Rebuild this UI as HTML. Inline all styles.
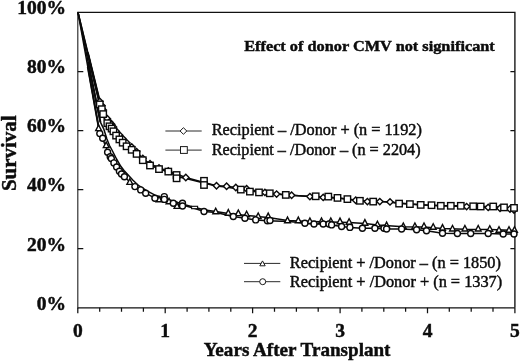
<!DOCTYPE html>
<html><head><meta charset="utf-8"><title>Survival chart</title>
<style>html,body{margin:0;padding:0;background:#fff;width:520px;height:361px;overflow:hidden}
body{font-family:"Liberation Serif",serif;position:relative}</style></head>
<body>
<svg width="520" height="361" viewBox="0 0 520 361" style="display:block;position:absolute;left:0;top:0;will-change:transform">
<rect width="520" height="361" fill="#fff"/>
<g stroke="#111" stroke-width="1.35" fill="none">
<path d="M77.8 12.4H514.9V307.8"/>
<path d="M77.8 307.8H514.9"/>
</g>
<path d="M77.8 11.8V308.4" stroke="#2a2a2a" stroke-width="1.15" fill="none"/>
<path d="M77.8 71.5h5.5M514.9 71.5h-4.5M77.8 130.6h5.5M514.9 130.6h-4.5M77.8 189.6h5.5M514.9 189.6h-4.5M77.8 248.7h5.5M514.9 248.7h-4.5M77.8 307.8v5.5M99.7 307.8v4.0M121.5 307.8v4.0M143.4 307.8v4.0M165.2 307.8v5.5M187.1 307.8v4.0M208.9 307.8v4.0M230.8 307.8v4.0M252.6 307.8v5.5M274.5 307.8v4.0M296.4 307.8v4.0M318.2 307.8v4.0M340.1 307.8v5.5M361.9 307.8v4.0M383.8 307.8v4.0M405.6 307.8v4.0M427.5 307.8v5.5M449.3 307.8v4.0M471.2 307.8v4.0M493.0 307.8v4.0M514.9 307.8v5.5" stroke="#111" stroke-width="1.25" fill="none"/>
<g>
<polyline fill="none" stroke="#0a0a0a" stroke-width="1.50" stroke-linejoin="round" points="78.0,12.4 99.8,101.4 101.8,105.6 103.2,110.0 107.3,118.8 109.5,121.9 111.6,124.2 113.4,126.9 116.1,131.2 119.4,135.0 122.7,138.6 126.6,142.8 131.7,147.0 136.6,151.7 142.8,158.5 150.0,163.8 159.0,168.0 168.3,171.0 185.8,177.5 204.0,182.5 216.5,185.8 226.6,186.3 235.8,187.5 246.6,188.8 264.9,192.4 276.6,194.1 291.6,195.3 309.9,196.6 323.2,197.4 340.0,198.3 355.7,200.3 367.4,201.6 379.8,201.6 390.0,201.9 410.0,204.0 430.0,205.3 450.0,206.0 466.6,206.6 488.2,207.4 500.0,208.2 510.0,209.0 514.0,210.0"/>
<polyline fill="none" stroke="#0a0a0a" stroke-width="1.50" stroke-linejoin="round" points="78.0,12.4 99.8,104.4 101.8,109.2 103.2,114.1 105.5,119.5 107.3,123.2 109.5,126.3 111.6,128.6 113.4,131.3 116.1,135.6 119.4,139.4 122.7,142.7 126.6,146.3 131.7,149.8 136.6,153.9 142.8,160.2 150.0,165.0 159.0,169.0 169.0,172.0 177.0,176.5 186.0,178.5 204.0,183.0 216.0,186.0 226.0,187.0 241.0,189.5 250.0,191.0 260.0,192.3 270.0,193.3 286.0,195.0 312.0,196.6 329.0,197.0 337.5,198.0 347.5,199.0 359.0,200.5 372.5,201.5 380.0,201.6 390.0,202.0 399.0,203.6 410.0,204.1 421.0,204.9 431.0,205.2 441.0,205.8 451.0,205.8 461.0,205.8 472.5,206.4 481.0,206.5 492.5,206.5 504.0,207.4 514.0,207.9"/>
<polyline fill="none" stroke="#0a0a0a" stroke-width="1.50" stroke-linejoin="round" points="78.0,12.4 100.4,122.1 103.7,128.8 106.9,139.0 109.5,145.5 112.5,151.0 116.5,159.0 120.8,166.3 124.0,170.5 127.7,174.6 133.0,180.3 138.8,185.7 147.0,190.8 155.0,195.2 164.0,198.3 173.0,201.0 184.0,204.5 195.0,207.5 205.0,210.0 215.7,211.5 228.3,213.5 246.6,215.5 268.2,217.5 287.5,220.5 309.9,221.5 330.8,222.0 349.1,222.5 364.9,223.5 377.4,225.0 403.3,226.8 424.0,227.0 442.5,228.5 464.9,229.3 489.8,229.6 514.5,230.5"/>
<polyline fill="none" stroke="#0a0a0a" stroke-width="1.50" stroke-linejoin="round" points="78.0,12.4 99.8,133.6 102.7,138.2 104.5,143.5 106.5,148.5 107.6,152.2 110.2,156.7 111.3,158.5 113.9,162.9 116.6,167.0 119.4,171.2 121.5,174.0 124.4,176.7 129.9,182.0 134.9,186.6 140.7,189.9 145.7,193.2 154.9,198.2 164.0,199.9 173.3,203.2 182.5,205.0 195.0,208.5 204.0,211.5 216.0,212.5 233.3,216.5 244.9,218.2 255.7,219.9 267.4,220.7 289.0,221.5 299.0,222.5 304.9,223.2 314.0,224.0 323.2,224.0 331.6,224.9 341.6,226.5 349.9,227.4 362.4,228.2 374.9,228.2 386.6,229.0 401.6,229.0 416.6,229.8 426.5,230.7 442.5,233.2 457.4,233.5 470.7,233.5 488.2,233.5 503.2,234.0 514.0,234.0"/>
<polyline fill="none" stroke="#0a0a0a" stroke-width="2.00" stroke-linejoin="round" points="87.8,52.5 99.8,101.4"/>
<polyline fill="none" stroke="#0a0a0a" stroke-width="2.00" stroke-linejoin="round" points="87.8,53.8 99.8,104.4"/>
<polyline fill="none" stroke="#0a0a0a" stroke-width="2.00" stroke-linejoin="round" points="88.1,61.8 100.4,122.1"/>
<polyline fill="none" stroke="#0a0a0a" stroke-width="2.00" stroke-linejoin="round" points="87.8,66.9 99.8,133.6"/>
<rect x="191.6" y="206.3" width="6" height="2.4" fill="#fff" stroke="#0a0a0a" stroke-width="1.1"/>
<path d="M96.6 101.4L99.8 98.2L103.0 101.4L99.8 104.6Z" fill="#fff" stroke="#0a0a0a" stroke-width="1.4"/><path d="M98.6 105.6L101.8 102.4L105.0 105.6L101.8 108.8Z" fill="#fff" stroke="#0a0a0a" stroke-width="1.4"/><path d="M100.0 110.0L103.2 106.8L106.4 110.0L103.2 113.2Z" fill="#fff" stroke="#0a0a0a" stroke-width="1.4"/><path d="M104.1 118.8L107.3 115.6L110.5 118.8L107.3 122.0Z" fill="#fff" stroke="#0a0a0a" stroke-width="1.4"/><path d="M106.3 121.9L109.5 118.7L112.7 121.9L109.5 125.1Z" fill="#fff" stroke="#0a0a0a" stroke-width="1.4"/><path d="M108.4 124.2L111.6 121.0L114.8 124.2L111.6 127.4Z" fill="#fff" stroke="#0a0a0a" stroke-width="1.4"/><path d="M110.2 126.9L113.4 123.7L116.6 126.9L113.4 130.1Z" fill="#fff" stroke="#0a0a0a" stroke-width="1.4"/><path d="M112.9 131.2L116.1 128.0L119.3 131.2L116.1 134.4Z" fill="#fff" stroke="#0a0a0a" stroke-width="1.4"/><path d="M116.2 135.0L119.4 131.8L122.6 135.0L119.4 138.2Z" fill="#fff" stroke="#0a0a0a" stroke-width="1.4"/><path d="M119.5 138.6L122.7 135.4L125.9 138.6L122.7 141.8Z" fill="#fff" stroke="#0a0a0a" stroke-width="1.4"/><path d="M123.4 142.8L126.6 139.6L129.8 142.8L126.6 146.0Z" fill="#fff" stroke="#0a0a0a" stroke-width="1.4"/><path d="M128.5 147.0L131.7 143.8L134.9 147.0L131.7 150.2Z" fill="#fff" stroke="#0a0a0a" stroke-width="1.4"/><path d="M133.4 151.7L136.6 148.5L139.8 151.7L136.6 154.9Z" fill="#fff" stroke="#0a0a0a" stroke-width="1.4"/><path d="M139.6 158.5L142.8 155.3L146.0 158.5L142.8 161.7Z" fill="#fff" stroke="#0a0a0a" stroke-width="1.4"/><path d="M146.8 163.8L150.0 160.6L153.2 163.8L150.0 167.0Z" fill="#fff" stroke="#0a0a0a" stroke-width="1.4"/><path d="M155.8 168.0L159.0 164.8L162.2 168.0L159.0 171.2Z" fill="#fff" stroke="#0a0a0a" stroke-width="1.4"/><path d="M165.1 171.0L168.3 167.8L171.5 171.0L168.3 174.2Z" fill="#fff" stroke="#0a0a0a" stroke-width="1.4"/>
<path d="M182.6 177.5L185.8 174.3L189.0 177.5L185.8 180.7Z" fill="#fff" stroke="#0a0a0a" stroke-width="1.4"/><path d="M213.3 185.8L216.5 182.6L219.7 185.8L216.5 189.0Z" fill="#fff" stroke="#0a0a0a" stroke-width="1.4"/><path d="M223.4 186.3L226.6 183.1L229.8 186.3L226.6 189.5Z" fill="#fff" stroke="#0a0a0a" stroke-width="1.4"/><path d="M232.6 187.5L235.8 184.3L239.0 187.5L235.8 190.7Z" fill="#fff" stroke="#0a0a0a" stroke-width="1.4"/><path d="M243.4 188.8L246.6 185.6L249.8 188.8L246.6 192.0Z" fill="#fff" stroke="#0a0a0a" stroke-width="1.4"/><path d="M261.7 192.4L264.9 189.2L268.1 192.4L264.9 195.6Z" fill="#fff" stroke="#0a0a0a" stroke-width="1.4"/><path d="M273.4 194.1L276.6 190.9L279.8 194.1L276.6 197.3Z" fill="#fff" stroke="#0a0a0a" stroke-width="1.4"/><path d="M288.4 195.3L291.6 192.1L294.8 195.3L291.6 198.5Z" fill="#fff" stroke="#0a0a0a" stroke-width="1.4"/><path d="M306.7 196.6L309.9 193.4L313.1 196.6L309.9 199.8Z" fill="#fff" stroke="#0a0a0a" stroke-width="1.4"/><path d="M320.0 197.4L323.2 194.2L326.4 197.4L323.2 200.6Z" fill="#fff" stroke="#0a0a0a" stroke-width="1.4"/><path d="M352.5 200.3L355.7 197.1L358.9 200.3L355.7 203.5Z" fill="#fff" stroke="#0a0a0a" stroke-width="1.4"/><path d="M364.2 201.6L367.4 198.4L370.6 201.6L367.4 204.8Z" fill="#fff" stroke="#0a0a0a" stroke-width="1.4"/><path d="M376.6 201.6L379.8 198.4L383.0 201.6L379.8 204.8Z" fill="#fff" stroke="#0a0a0a" stroke-width="1.4"/><path d="M386.8 201.9L390.0 198.7L393.2 201.9L390.0 205.1Z" fill="#fff" stroke="#0a0a0a" stroke-width="1.4"/><path d="M463.4 206.6L466.6 203.4L469.8 206.6L466.6 209.8Z" fill="#fff" stroke="#0a0a0a" stroke-width="1.4"/><path d="M485.0 207.4L488.2 204.2L491.4 207.4L488.2 210.6Z" fill="#fff" stroke="#0a0a0a" stroke-width="1.4"/><path d="M496.8 208.2L500.0 205.0L503.2 208.2L500.0 211.4Z" fill="#fff" stroke="#0a0a0a" stroke-width="1.4"/><path d="M506.8 209.0L510.0 205.8L513.2 209.0L510.0 212.2Z" fill="#fff" stroke="#0a0a0a" stroke-width="1.4"/><path d="M510.8 210.0L514.0 206.8L517.2 210.0L514.0 213.2Z" fill="#fff" stroke="#0a0a0a" stroke-width="1.4"/>
<rect x="96.6" y="101.2" width="6.4" height="6.4" fill="#fff" stroke="#0a0a0a" stroke-width="1.4"/><rect x="98.6" y="106.0" width="6.4" height="6.4" fill="#fff" stroke="#0a0a0a" stroke-width="1.4"/><rect x="100.0" y="110.9" width="6.4" height="6.4" fill="#fff" stroke="#0a0a0a" stroke-width="1.4"/><rect x="104.1" y="120.0" width="6.4" height="6.4" fill="#fff" stroke="#0a0a0a" stroke-width="1.4"/><rect x="106.3" y="123.1" width="6.4" height="6.4" fill="#fff" stroke="#0a0a0a" stroke-width="1.4"/><rect x="108.4" y="125.4" width="6.4" height="6.4" fill="#fff" stroke="#0a0a0a" stroke-width="1.4"/><rect x="110.2" y="128.1" width="6.4" height="6.4" fill="#fff" stroke="#0a0a0a" stroke-width="1.4"/><rect x="112.9" y="132.4" width="6.4" height="6.4" fill="#fff" stroke="#0a0a0a" stroke-width="1.4"/><rect x="116.2" y="136.2" width="6.4" height="6.4" fill="#fff" stroke="#0a0a0a" stroke-width="1.4"/><rect x="119.5" y="139.5" width="6.4" height="6.4" fill="#fff" stroke="#0a0a0a" stroke-width="1.4"/><rect x="123.4" y="143.1" width="6.4" height="6.4" fill="#fff" stroke="#0a0a0a" stroke-width="1.4"/><rect x="128.5" y="146.6" width="6.4" height="6.4" fill="#fff" stroke="#0a0a0a" stroke-width="1.4"/><rect x="133.4" y="150.7" width="6.4" height="6.4" fill="#fff" stroke="#0a0a0a" stroke-width="1.4"/><rect x="139.6" y="157.0" width="6.4" height="6.4" fill="#fff" stroke="#0a0a0a" stroke-width="1.4"/><rect x="146.8" y="162.3" width="6.4" height="6.4" fill="#fff" stroke="#0a0a0a" stroke-width="1.4"/><rect x="155.8" y="165.9" width="6.4" height="6.4" fill="#fff" stroke="#0a0a0a" stroke-width="1.4"/><rect x="165.1" y="168.4" width="6.4" height="6.4" fill="#fff" stroke="#0a0a0a" stroke-width="1.4"/><rect x="173.4" y="171.8" width="6.4" height="6.4" fill="#fff" stroke="#0a0a0a" stroke-width="1.4"/><rect x="173.4" y="175.1" width="6.4" height="6.4" fill="#fff" stroke="#0a0a0a" stroke-width="1.4"/><rect x="200.8" y="177.6" width="6.4" height="6.4" fill="#fff" stroke="#0a0a0a" stroke-width="1.4"/><rect x="200.8" y="181.8" width="6.4" height="6.4" fill="#fff" stroke="#0a0a0a" stroke-width="1.4"/><rect x="237.6" y="186.4" width="6.4" height="6.4" fill="#fff" stroke="#0a0a0a" stroke-width="1.4"/><rect x="246.7" y="188.4" width="6.4" height="6.4" fill="#fff" stroke="#0a0a0a" stroke-width="1.4"/><rect x="255.8" y="189.2" width="6.4" height="6.4" fill="#fff" stroke="#0a0a0a" stroke-width="1.4"/><rect x="266.6" y="190.1" width="6.4" height="6.4" fill="#fff" stroke="#0a0a0a" stroke-width="1.4"/><rect x="282.6" y="191.7" width="6.4" height="6.4" fill="#fff" stroke="#0a0a0a" stroke-width="1.4"/><rect x="312.5" y="193.1" width="6.4" height="6.4" fill="#fff" stroke="#0a0a0a" stroke-width="1.4"/><rect x="325.1" y="193.4" width="6.4" height="6.4" fill="#fff" stroke="#0a0a0a" stroke-width="1.4"/><rect x="334.3" y="194.7" width="6.4" height="6.4" fill="#fff" stroke="#0a0a0a" stroke-width="1.4"/><rect x="344.2" y="195.9" width="6.4" height="6.4" fill="#fff" stroke="#0a0a0a" stroke-width="1.4"/><rect x="356.7" y="197.6" width="6.4" height="6.4" fill="#fff" stroke="#0a0a0a" stroke-width="1.4"/><rect x="370.0" y="198.4" width="6.4" height="6.4" fill="#fff" stroke="#0a0a0a" stroke-width="1.4"/><rect x="395.9" y="200.4" width="6.4" height="6.4" fill="#fff" stroke="#0a0a0a" stroke-width="1.4"/><rect x="406.7" y="200.9" width="6.4" height="6.4" fill="#fff" stroke="#0a0a0a" stroke-width="1.4"/><rect x="417.5" y="201.7" width="6.4" height="6.4" fill="#fff" stroke="#0a0a0a" stroke-width="1.4"/><rect x="428.3" y="202.0" width="6.4" height="6.4" fill="#fff" stroke="#0a0a0a" stroke-width="1.4"/><rect x="437.6" y="202.6" width="6.4" height="6.4" fill="#fff" stroke="#0a0a0a" stroke-width="1.4"/><rect x="447.6" y="202.6" width="6.4" height="6.4" fill="#fff" stroke="#0a0a0a" stroke-width="1.4"/><rect x="457.6" y="202.6" width="6.4" height="6.4" fill="#fff" stroke="#0a0a0a" stroke-width="1.4"/><rect x="470.0" y="203.1" width="6.4" height="6.4" fill="#fff" stroke="#0a0a0a" stroke-width="1.4"/><rect x="477.5" y="203.3" width="6.4" height="6.4" fill="#fff" stroke="#0a0a0a" stroke-width="1.4"/><rect x="490.0" y="203.3" width="6.4" height="6.4" fill="#fff" stroke="#0a0a0a" stroke-width="1.4"/><rect x="500.8" y="204.2" width="6.4" height="6.4" fill="#fff" stroke="#0a0a0a" stroke-width="1.4"/><rect x="510.8" y="204.7" width="6.4" height="6.4" fill="#fff" stroke="#0a0a0a" stroke-width="1.4"/>
<path d="M156.1 201.8L159.0 196.2L161.9 201.8Z" fill="#fff" stroke="#0a0a0a" stroke-width="1.4"/><path d="M166.1 203.8L169.0 198.2L171.9 203.8Z" fill="#fff" stroke="#0a0a0a" stroke-width="1.4"/><path d="M174.1 208.4L177.0 202.8L179.9 208.4Z" fill="#fff" stroke="#0a0a0a" stroke-width="1.4"/><path d="M212.8 213.8L215.7 208.2L218.6 213.8Z" fill="#fff" stroke="#0a0a0a" stroke-width="1.4"/><path d="M225.4 215.2L228.3 209.6L231.2 215.2Z" fill="#fff" stroke="#0a0a0a" stroke-width="1.4"/><path d="M235.4 215.6L238.3 210.0L241.2 215.6Z" fill="#fff" stroke="#0a0a0a" stroke-width="1.4"/><path d="M243.7 216.8L246.6 211.2L249.5 216.8Z" fill="#fff" stroke="#0a0a0a" stroke-width="1.4"/><path d="M255.3 218.5L258.2 212.9L261.1 218.5Z" fill="#fff" stroke="#0a0a0a" stroke-width="1.4"/><path d="M265.3 218.7L268.2 213.1L271.1 218.7Z" fill="#fff" stroke="#0a0a0a" stroke-width="1.4"/><path d="M284.6 222.7L287.5 217.1L290.4 222.7Z" fill="#fff" stroke="#0a0a0a" stroke-width="1.4"/><path d="M295.4 222.7L298.3 217.1L301.2 222.7Z" fill="#fff" stroke="#0a0a0a" stroke-width="1.4"/><path d="M307.0 223.5L309.9 217.9L312.8 223.5Z" fill="#fff" stroke="#0a0a0a" stroke-width="1.4"/><path d="M318.6 223.5L321.5 217.9L324.4 223.5Z" fill="#fff" stroke="#0a0a0a" stroke-width="1.4"/><path d="M327.9 223.5L330.8 217.9L333.7 223.5Z" fill="#fff" stroke="#0a0a0a" stroke-width="1.4"/><path d="M337.1 223.7L340.0 218.1L342.9 223.7Z" fill="#fff" stroke="#0a0a0a" stroke-width="1.4"/><path d="M346.2 224.3L349.1 218.7L352.0 224.3Z" fill="#fff" stroke="#0a0a0a" stroke-width="1.4"/><path d="M362.0 225.2L364.9 219.6L367.8 225.2Z" fill="#fff" stroke="#0a0a0a" stroke-width="1.4"/><path d="M374.5 226.8L377.4 221.2L380.3 226.8Z" fill="#fff" stroke="#0a0a0a" stroke-width="1.4"/><path d="M383.7 227.7L386.6 222.1L389.5 227.7Z" fill="#fff" stroke="#0a0a0a" stroke-width="1.4"/><path d="M400.4 228.5L403.3 222.9L406.2 228.5Z" fill="#fff" stroke="#0a0a0a" stroke-width="1.4"/><path d="M412.0 228.5L414.9 222.9L417.8 228.5Z" fill="#fff" stroke="#0a0a0a" stroke-width="1.4"/><path d="M421.1 228.5L424.0 222.9L426.9 228.5Z" fill="#fff" stroke="#0a0a0a" stroke-width="1.4"/><path d="M430.3 229.3L433.2 223.7L436.1 229.3Z" fill="#fff" stroke="#0a0a0a" stroke-width="1.4"/><path d="M439.6 230.2L442.5 224.6L445.4 230.2Z" fill="#fff" stroke="#0a0a0a" stroke-width="1.4"/><path d="M449.6 231.0L452.5 225.4L455.4 231.0Z" fill="#fff" stroke="#0a0a0a" stroke-width="1.4"/><path d="M462.0 231.0L464.9 225.4L467.8 231.0Z" fill="#fff" stroke="#0a0a0a" stroke-width="1.4"/><path d="M475.3 231.0L478.2 225.4L481.1 231.0Z" fill="#fff" stroke="#0a0a0a" stroke-width="1.4"/><path d="M486.9 231.3L489.8 225.7L492.7 231.3Z" fill="#fff" stroke="#0a0a0a" stroke-width="1.4"/><path d="M496.1 232.3L499.0 226.7L501.9 232.3Z" fill="#fff" stroke="#0a0a0a" stroke-width="1.4"/><path d="M506.1 232.3L509.0 226.7L511.9 232.3Z" fill="#fff" stroke="#0a0a0a" stroke-width="1.4"/><path d="M511.6 232.3L514.5 226.7L517.4 232.3Z" fill="#fff" stroke="#0a0a0a" stroke-width="1.4"/>
<circle cx="99.8" cy="133.6" r="3.0" fill="#fff" stroke="#0a0a0a" stroke-width="1.4"/><circle cx="102.7" cy="138.2" r="3.0" fill="#fff" stroke="#0a0a0a" stroke-width="1.4"/><circle cx="107.6" cy="152.2" r="3.0" fill="#fff" stroke="#0a0a0a" stroke-width="1.4"/><circle cx="110.2" cy="156.7" r="3.0" fill="#fff" stroke="#0a0a0a" stroke-width="1.4"/><circle cx="111.3" cy="158.5" r="3.0" fill="#fff" stroke="#0a0a0a" stroke-width="1.4"/><circle cx="113.9" cy="162.9" r="3.0" fill="#fff" stroke="#0a0a0a" stroke-width="1.4"/><circle cx="116.6" cy="167.0" r="3.0" fill="#fff" stroke="#0a0a0a" stroke-width="1.4"/><circle cx="119.4" cy="171.2" r="3.0" fill="#fff" stroke="#0a0a0a" stroke-width="1.4"/><circle cx="121.5" cy="174.0" r="3.0" fill="#fff" stroke="#0a0a0a" stroke-width="1.4"/><circle cx="124.4" cy="176.7" r="3.0" fill="#fff" stroke="#0a0a0a" stroke-width="1.4"/><circle cx="134.9" cy="186.6" r="3.0" fill="#fff" stroke="#0a0a0a" stroke-width="1.4"/><circle cx="140.7" cy="189.9" r="3.0" fill="#fff" stroke="#0a0a0a" stroke-width="1.4"/><circle cx="145.7" cy="193.2" r="3.0" fill="#fff" stroke="#0a0a0a" stroke-width="1.4"/><circle cx="154.9" cy="198.2" r="3.0" fill="#fff" stroke="#0a0a0a" stroke-width="1.4"/><circle cx="164.3" cy="196.6" r="3.0" fill="#fff" stroke="#0a0a0a" stroke-width="1.4"/><circle cx="164.3" cy="199.4" r="3.0" fill="#fff" stroke="#0a0a0a" stroke-width="1.4"/><circle cx="173.3" cy="203.2" r="3.0" fill="#fff" stroke="#0a0a0a" stroke-width="1.4"/><circle cx="182.5" cy="203.3" r="3.0" fill="#fff" stroke="#0a0a0a" stroke-width="1.4"/><circle cx="182.5" cy="206.0" r="3.0" fill="#fff" stroke="#0a0a0a" stroke-width="1.4"/><circle cx="204.0" cy="211.5" r="3.0" fill="#fff" stroke="#0a0a0a" stroke-width="1.4"/><circle cx="233.3" cy="216.5" r="3.0" fill="#fff" stroke="#0a0a0a" stroke-width="1.4"/><circle cx="244.9" cy="218.2" r="3.0" fill="#fff" stroke="#0a0a0a" stroke-width="1.4"/><circle cx="255.7" cy="219.9" r="3.0" fill="#fff" stroke="#0a0a0a" stroke-width="1.4"/><circle cx="267.4" cy="220.7" r="3.0" fill="#fff" stroke="#0a0a0a" stroke-width="1.4"/><circle cx="270.0" cy="220.5" r="3.0" fill="#fff" stroke="#0a0a0a" stroke-width="1.4"/><circle cx="304.9" cy="223.2" r="3.0" fill="#fff" stroke="#0a0a0a" stroke-width="1.4"/><circle cx="314.0" cy="224.0" r="3.0" fill="#fff" stroke="#0a0a0a" stroke-width="1.4"/><circle cx="323.2" cy="224.0" r="3.0" fill="#fff" stroke="#0a0a0a" stroke-width="1.4"/><circle cx="329.0" cy="224.0" r="3.0" fill="#fff" stroke="#0a0a0a" stroke-width="1.4"/><circle cx="331.6" cy="224.9" r="3.0" fill="#fff" stroke="#0a0a0a" stroke-width="1.4"/><circle cx="341.6" cy="226.5" r="3.0" fill="#fff" stroke="#0a0a0a" stroke-width="1.4"/><circle cx="349.9" cy="227.4" r="3.0" fill="#fff" stroke="#0a0a0a" stroke-width="1.4"/><circle cx="362.4" cy="228.2" r="3.0" fill="#fff" stroke="#0a0a0a" stroke-width="1.4"/><circle cx="374.9" cy="228.2" r="3.0" fill="#fff" stroke="#0a0a0a" stroke-width="1.4"/><circle cx="384.0" cy="228.2" r="3.0" fill="#fff" stroke="#0a0a0a" stroke-width="1.4"/><circle cx="386.6" cy="229.0" r="3.0" fill="#fff" stroke="#0a0a0a" stroke-width="1.4"/><circle cx="401.6" cy="229.0" r="3.0" fill="#fff" stroke="#0a0a0a" stroke-width="1.4"/><circle cx="416.6" cy="229.8" r="3.0" fill="#fff" stroke="#0a0a0a" stroke-width="1.4"/><circle cx="426.5" cy="230.7" r="3.0" fill="#fff" stroke="#0a0a0a" stroke-width="1.4"/><circle cx="442.5" cy="233.2" r="3.0" fill="#fff" stroke="#0a0a0a" stroke-width="1.4"/><circle cx="457.4" cy="233.5" r="3.0" fill="#fff" stroke="#0a0a0a" stroke-width="1.4"/><circle cx="470.7" cy="233.5" r="3.0" fill="#fff" stroke="#0a0a0a" stroke-width="1.4"/><circle cx="488.2" cy="233.5" r="3.0" fill="#fff" stroke="#0a0a0a" stroke-width="1.4"/><circle cx="503.2" cy="234.0" r="3.0" fill="#fff" stroke="#0a0a0a" stroke-width="1.4"/><circle cx="514.0" cy="234.0" r="3.0" fill="#fff" stroke="#0a0a0a" stroke-width="1.4"/>
<path d="M95.7 130.6L98.6 125.0L101.5 130.6Z" fill="#fff" stroke="#0a0a0a" stroke-width="1.4"/><path d="M103.3 147.6L106.2 142.0L109.1 147.6Z" fill="#fff" stroke="#0a0a0a" stroke-width="1.4"/><path d="M126.9 184.4L129.8 178.8L132.7 184.4Z" fill="#fff" stroke="#0a0a0a" stroke-width="1.4"/>
</g>
<g stroke="#2a2a2a" stroke-width="1">
<path d="M165.4 131.0H201.7M165.4 150.1H201.7M244 263.4H280.3M244 281.7H280.3" fill="none"/>
</g>
<path d="M180.1 131.0L183.4 127.7L186.8 131.0L183.4 134.3Z" fill="#fff" stroke="#1a1a1a" stroke-width="1"/>
<rect x="180.5" y="146.6" width="6.8" height="6.8" fill="#fff" stroke="#1a1a1a" stroke-width="1"/>
<path d="M259.8 265.8L262.5 260.9L265.2 265.8Z" fill="#fff" stroke="#1a1a1a" stroke-width="1"/>
<circle cx="262.7" cy="281.7" r="3.0" fill="#fff" stroke="#1a1a1a" stroke-width="1"/>
<text x="211.7" y="135.0" font-family="'Liberation Serif', serif" font-size="16" fill="#0c0c0c" stroke="#0c0c0c" stroke-width="0.45" textLength="210.2" lengthAdjust="spacingAndGlyphs" >Recipient – /Donor + (n = 1192)</text>
<text x="211.7" y="154.6" font-family="'Liberation Serif', serif" font-size="16" fill="#0c0c0c" stroke="#0c0c0c" stroke-width="0.45" textLength="208.9" lengthAdjust="spacingAndGlyphs" >Recipient – /Donor – (n = 2204)</text>
<text x="289.8" y="268.0" font-family="'Liberation Serif', serif" font-size="16" fill="#0c0c0c" stroke="#0c0c0c" stroke-width="0.45" textLength="211.1" lengthAdjust="spacingAndGlyphs" >Recipient + /Donor – (n = 1850)</text>
<text x="289.8" y="286.8" font-family="'Liberation Serif', serif" font-size="16" fill="#0c0c0c" stroke="#0c0c0c" stroke-width="0.45" textLength="212.4" lengthAdjust="spacingAndGlyphs" >Recipient + /Donor + (n = 1337)</text>
<text x="244.2" y="50.7" font-family="'Liberation Serif', serif" font-size="15.6" fill="#0c0c0c" stroke="#0c0c0c" font-weight="bold" stroke-width="0.45" textLength="250.6" lengthAdjust="spacingAndGlyphs" >Effect of donor CMV not significant</text>
<g transform="translate(65.9 14.2) scale(1 1)"><text x="0.0" y="0.0" font-family="'Liberation Serif', serif" font-size="19.5" fill="#0c0c0c" stroke="#0c0c0c" font-weight="bold" stroke-width="0.45" text-anchor="end" >100%</text></g>
<g transform="translate(65.9 73.3) scale(1 1)"><text x="0.0" y="0.0" font-family="'Liberation Serif', serif" font-size="19.5" fill="#0c0c0c" stroke="#0c0c0c" font-weight="bold" stroke-width="0.45" text-anchor="end" >80%</text></g>
<g transform="translate(65.9 132.4) scale(1 1)"><text x="0.0" y="0.0" font-family="'Liberation Serif', serif" font-size="19.5" fill="#0c0c0c" stroke="#0c0c0c" font-weight="bold" stroke-width="0.45" text-anchor="end" >60%</text></g>
<g transform="translate(65.9 191.4) scale(1 1)"><text x="0.0" y="0.0" font-family="'Liberation Serif', serif" font-size="19.5" fill="#0c0c0c" stroke="#0c0c0c" font-weight="bold" stroke-width="0.45" text-anchor="end" >40%</text></g>
<g transform="translate(65.9 250.5) scale(1 1)"><text x="0.0" y="0.0" font-family="'Liberation Serif', serif" font-size="19.5" fill="#0c0c0c" stroke="#0c0c0c" font-weight="bold" stroke-width="0.45" text-anchor="end" >20%</text></g>
<g transform="translate(65.9 309.6) scale(1 1)"><text x="0.0" y="0.0" font-family="'Liberation Serif', serif" font-size="19.5" fill="#0c0c0c" stroke="#0c0c0c" font-weight="bold" stroke-width="0.45" text-anchor="end" >0%</text></g>
<text x="77.8" y="337.3" font-family="'Liberation Serif', serif" font-size="19.5" fill="#0c0c0c" stroke="#0c0c0c" font-weight="bold" stroke-width="0.45" text-anchor="middle" >0</text>
<text x="165.2" y="337.3" font-family="'Liberation Serif', serif" font-size="19.5" fill="#0c0c0c" stroke="#0c0c0c" font-weight="bold" stroke-width="0.45" text-anchor="middle" >1</text>
<text x="252.6" y="337.3" font-family="'Liberation Serif', serif" font-size="19.5" fill="#0c0c0c" stroke="#0c0c0c" font-weight="bold" stroke-width="0.45" text-anchor="middle" >2</text>
<text x="340.1" y="337.3" font-family="'Liberation Serif', serif" font-size="19.5" fill="#0c0c0c" stroke="#0c0c0c" font-weight="bold" stroke-width="0.45" text-anchor="middle" >3</text>
<text x="427.5" y="337.3" font-family="'Liberation Serif', serif" font-size="19.5" fill="#0c0c0c" stroke="#0c0c0c" font-weight="bold" stroke-width="0.45" text-anchor="middle" >4</text>
<text x="514.9" y="337.3" font-family="'Liberation Serif', serif" font-size="19.5" fill="#0c0c0c" stroke="#0c0c0c" font-weight="bold" stroke-width="0.45" text-anchor="middle" >5</text>
<text x="203.7" y="356.0" font-family="'Liberation Serif', serif" font-size="19.5" fill="#0c0c0c" stroke="#0c0c0c" font-weight="bold" stroke-width="0.45" textLength="186.8" lengthAdjust="spacingAndGlyphs" >Years After Transplant</text>
<text transform="translate(15.9 153.3) rotate(-90)" font-family="'Liberation Serif', serif" font-size="20.5" font-weight="bold" fill="#0c0c0c" stroke="#0c0c0c" stroke-width="0.45" text-anchor="middle" textLength="75.5" lengthAdjust="spacingAndGlyphs">Survival</text>
</svg>
</body></html>
